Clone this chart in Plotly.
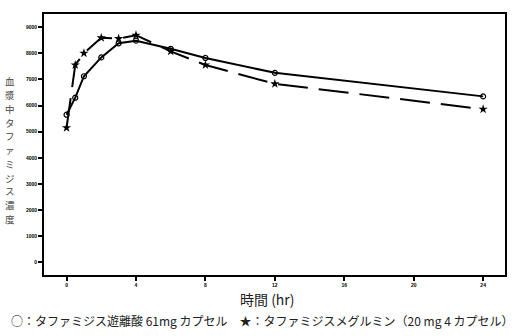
import plotly.graph_objects as go

# Data
times = [0, 0.5, 1, 2, 3, 4, 6, 8, 12, 24]
free_acid = [5650, 6300, 7120, 7840, 8380, 8480, 8170, 7820, 7250, 6350]
meglumine = [5150, 7550, 8000, 8590, 8560, 8690, 8070, 7550, 6830, 5860]
x_ticks = [0, 4, 8, 12, 16, 20, 24]
y_ticks = [0, 1000, 2000, 3000, 4000, 5000, 6000, 7000, 8000, 9000]
y_title = "血漿中タファミジス濃度"
x_title = "時間 (hr)"
legend_text = "○：タファミジス遊離酸 61mg カプセル　★：タファミジスメグルミン（20 mg 4 カプセル）"

fig = go.Figure()
fig.add_trace(go.Scatter(
    x=times, y=free_acid, mode="lines+markers",
    line=dict(color="black", width=2),
    marker=dict(symbol="circle-open", size=5, color="black", line=dict(width=1.2)),
    showlegend=False))
fig.add_trace(go.Scatter(
    x=times, y=meglumine, mode="lines+markers",
    line=dict(color="black", width=2, dash="30px,11px"),
    marker=dict(symbol="star", size=7, color="black"),
    showlegend=False))

axis_common = dict(showline=True, linecolor="black", linewidth=2, mirror=True,
                   ticks="outside", ticklen=4, tickwidth=1.5, tickcolor="black",
                   showgrid=False, zeroline=False,
                   tickfont=dict(size=5, color="black", family="Arial", weight="bold"))
fig.update_xaxes(range=[-1.3, 25.26], tickvals=x_ticks, **axis_common)
fig.update_yaxes(range=[-480, 9500], tickvals=y_ticks, **axis_common)

# Vertical y title, one character per annotation
step = 13.9
for i, ch in enumerate(y_title):
    fig.add_annotation(text=ch, xref="paper", yref="paper", showarrow=False,
                       x=(10 - 44) / 461, y=1 - (80 + i * step - 12) / 263.5,
                       xanchor="center", yanchor="middle",
                       font=dict(size=9.5, color="#444", family="Noto Sans CJK JP"))

fig.add_annotation(text=x_title, xref="paper", yref="paper", showarrow=False,
                   x=(267 - 44) / 461, y=1 - (300 - 12) / 263.5,
                   xanchor="center", yanchor="middle",
                   font=dict(size=14, color="#222", family="Noto Sans CJK JP"))
fig.add_annotation(text=legend_text, xref="paper", yref="paper", showarrow=False,
                   x=(262 - 44) / 461, y=1 - (321 - 12) / 263.5,
                   xanchor="center", yanchor="middle",
                   font=dict(size=12, color="#222", family="Noto Sans CJK JP"))

fig.update_layout(width=522, height=336, margin=dict(l=44, r=17, t=12, b=60.5),
                  plot_bgcolor="white", paper_bgcolor="white")
fig.write_html("out.html")
